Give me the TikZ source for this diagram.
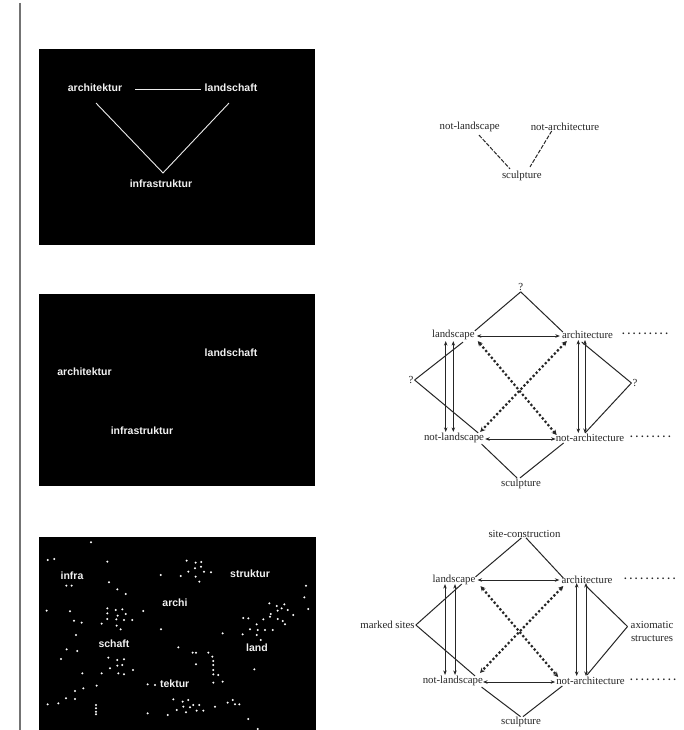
\documentclass[tikz,border=0pt]{standalone}
\usepackage{fontspec}
\setmainfont{Liberation Serif}
\newfontfamily\grotesk{Liberation Sans}
\usetikzlibrary{arrows.meta,calc}
\begin{document}
\begin{tikzpicture}[x=1pt,y=-1pt,
  panel/.style={fill=black},
  wlabel/.style={text=white!90!gray,font=\grotesk\bfseries\fontsize{10.5}{12}\selectfont,inner sep=1pt},
  wline/.style={draw=white!85!gray,line width=0.9pt},
  wdot/.style={fill=white},
  slabel/.style={text=black!85,font=\fontsize{10.8}{13}\selectfont,inner sep=1pt},
  conn/.style={draw=black!85,line width=1pt},
  dashconn/.style={conn,dash pattern=on 4pt off 1.5pt},
  dblarrow/.style={conn,{Stealth[length=4.5pt,width=3.5pt]}-{Stealth[length=4.5pt,width=3.5pt]}},
  dotarrow/.style={draw=black!85,line width=2.2pt,dash pattern=on 2.2pt off 2.2pt,{Stealth[length=5pt,width=5pt]}-{Stealth[length=5pt,width=5pt]}},
  dotrow/.style={slabel,anchor=west,inner sep=0pt,font=\bfseries\fontsize{10.8}{13}\selectfont}
]
\useasboundingbox (0,0) rectangle (684,730);
\fill[white] (0,0) rectangle (684,730);
% left rule
\draw[draw=black!55,line width=1.5pt] (20,3) -- (20,730);

% ---------- panel 1 ----------
\fill[panel] (39,49) rectangle (315,245);
\node[wlabel] (ark1) at (95,88) {architektur};
\node[wlabel] (land1) at (231,88) {landschaft};
\node[wlabel] (inf1) at (161,184) {infrastruktur};
\draw[wline] ($(ark1.east)+(12,1)$) -- ($(land1.west)+(-3,1)$);
\coordinate (vtip) at ($(inf1.north)+(2,-6)$);
\draw[wline] ($(ark1.south)+(1,10)$) -- (vtip) -- ($(land1.south)+(-2,10)$);

% right diagram 1
\node[slabel] (nla) at (469.7,127) {not-landscape};
\node[slabel] (naa) at (565,127) {not-architecture};
\node[slabel] (sa) at (521.8,176) {sculpture};
\draw[dashconn] ($(nla.south)+(9.3,2)$) -- ($(sa.north)+(-11.8,-1)$);
\draw[dashconn] ($(naa.south)+(-13.3,-1)$) -- ($(sa.north)+(8.2,-3)$);

% ---------- panel 2 ----------
\fill[panel] (39,294) rectangle (315,486);
\node[wlabel] (land2) at (231,353) {landschaft};
\node[wlabel] (ark2) at (84.5,372) {architektur};
\node[wlabel] (inf2) at (142,431) {infrastruktur};

% right diagram 2
\node[slabel] (q1) at (520.7,287) {?};
\node[slabel] (l2) at (453.3,335) {landscape};
\node[slabel] (a2) at (587.5,335) {architecture};
\node[slabel] (ql) at (411,380) {?};
\node[slabel] (qr) at (635,383) {?};
\node[slabel] (nl2) at (454,438) {not-landscape};
\node[slabel] (na2) at (590,438) {not-architecture};
\node[slabel] (s2) at (521,484) {sculpture};
\node[dotrow] (d2a) at (622,334) {.\ .\ .\ .\ .\ .\ .\ .\ .};
\node[dotrow] (d2b) at (630,437) {.\ .\ .\ .\ .\ .\ .\ .};

\draw[conn] (q1.south) -- ($(l2.north east)+(-1,2)$);
\draw[conn] (q1.south) -- ($(a2.north west)+(2,2)$);
\draw[dblarrow] ($(l2.east)+(1,1)$) -- ($(a2.west)+(-1,1)$);
\draw[dblarrow] ($(l2.south)+(-7.6,0)$) -- ($(nl2.north)+(-8.3,0)$);
\draw[dblarrow] ($(l2.south)+(0,0)$) -- ($(nl2.north)+(-0.7,0)$);
\draw[conn] (ql.east) -- ($(l2.south)+(9.7,1)$);
\draw[conn] (ql.east) -- ($(nl2.north east)+(-7,1)$);
\draw[dotarrow] ($(l2.south east)+(2,0)$) -- ($(na2.north west)+(2,2)$);
\draw[dotarrow] ($(a2.south west)+(6,1)$) -- ($(nl2.north east)+(-5,0)$);
\draw[dblarrow] ($(nl2.east)+(0,1)$) -- ($(na2.west)+(1,1)$);
\draw[dblarrow] ($(a2.south)+(-9.2,0)$) -- ($(na2.north)+(-11.7,0)$);
\draw[dblarrow] ($(a2.south)+(-2.5,0)$) -- ($(na2.north)+(-5,0)$);
\draw[conn] (qr.west) -- ($(a2.south)+(-5.8,2)$);
\draw[conn] (qr.west) -- ($(na2.north)+(-5,0)$);
\draw[conn] ($(nl2.south east)+(-3.6,0)$) -- ($(s2.north)+(-4,0)$);
\draw[conn] ($(na2.south west)+(9,0)$) -- ($(s2.north)+(-1,0)$);

% ---------- panel 3 ----------
\fill[panel] (39,537) rectangle (316,730);
\foreach \zx/\zy in {273/67, 143/120, 163/117, 322/125, 199/197, 215/197, 327/187, 352/208, 377/222, 140/272, 210/274, 322/265, 322/280, 347/270, 367/268, 377/282, 353/287, 430/273, 322/297, 349/298, 372/300, 397/300, 222/302, 245/308, 305/311, 350/317, 362/328, 228/345, 483/328, 200/388, 232/393, 183/417, 325/413, 352/420, 372/418, 330/445, 352/437, 367/435, 399/450, 355/460, 372/463, 247/460, 305/460, 290/497, 250/505, 225/513, 198/535, 225/537, 175/550, 143/553, 288/555, 288/565, 288/575, 288/583,
  560/122, 587/128, 604/126, 482/165, 542/168, 565/155, 585/145, 603/140, 612/155, 633/157, 587/170, 598/185,
  918/197, 913/232, 925/267, 808/250, 830/258, 853/253, 845/265, 863/270, 880/285, 833/272, 812/282, 790/298, 810/290, 833/297, 848/303, 855/313, 730/294, 745/295, 770/313, 773/330, 750/328, 795/330, 818/330, 728/343, 770/345, 782/360, 668/340,
  535/382, 578/398, 588/398, 625/398, 637/410, 640/423, 640/435, 588/433, 640/450, 655/465, 640/463, 640/488, 668/485, 763/448,
  443/493, 465/495, 520/538, 548/545, 565/540, 580/555, 598/555, 550/560, 570/562, 590/572, 610/572, 645/560, 683/548, 698/540, 705/553, 718/553, 530/570, 558/577, 503/585, 443/580, 745/597, 773/627}
  \fill[wdot] ({\zx/3},{520+\zy/3}) circle (1.1);
\node[wlabel] (infra3) at (72,576) {infra};
\node[wlabel] (strk3) at (250,574) {struktur};
\node[wlabel] (archi3) at (175,603) {archi};
\node[wlabel] (schaft3) at (114,644) {schaft};
\node[wlabel] (land3) at (257,648) {land};
\node[wlabel] (tekt3) at (174.7,684) {tektur};

% right diagram 3
\node[slabel] (sc) at (524.5,534) {site-construction};
\node[slabel] (l3) at (454,580) {landscape};
\node[slabel] (a3) at (587,580) {architecture};
\node[slabel] (ms) at (387.5,625) {marked sites};
\node[slabel,align=center,font=\fontsize{10.8}{13}\selectfont] (ax) at (652,631.5) {axiomatic\\structures};
\node[slabel] (nl3) at (452.8,681) {not-landscape};
\node[slabel] (na3) at (590.5,681) {not-architecture};
\node[slabel] (s3) at (521,721.7) {sculpture};
\node[dotrow] (d3a) at (624,579) {.\ .\ .\ .\ .\ .\ .\ .\ .\ .};
\node[dotrow] (d3b) at (630,680) {.\ .\ .\ .\ .\ .\ .\ .\ .};

\draw[conn] ($(sc.south)+(-3,-1)$) -- ($(l3.north east)+(-1,3)$);
\draw[conn] ($(sc.south)+(1.5,-1)$) -- ($(a3.north west)+(3,3)$);
\draw[dblarrow] ($(l3.east)+(1,0)$) -- ($(a3.west)+(-1,0)$);
\draw[dblarrow] ($(l3.south)+(-9,-2)$) -- ($(nl3.north)+(-7.8,0)$);
\draw[dblarrow] ($(l3.south)+(1,-2)$) -- ($(nl3.north)+(2.2,0)$);
\draw[conn] (ms.east) -- ($(l3.south)+(7.7,-2)$);
\draw[conn] (ms.east) -- ($(nl3.north east)+(-9,1)$);
\draw[dotarrow] ($(l3.south east)+(4,0)$) -- ($(na3.north west)+(3,1)$);
\draw[dotarrow] ($(a3.south west)+(3,1)$) -- ($(nl3.north east)+(-4,-2)$);
\draw[dblarrow] ($(nl3.east)+(-1,1)$) -- ($(na3.west)+(0,1)$);
\draw[dblarrow] ($(a3.south)+(-10.3,-2)$) -- ($(na3.north)+(-13.8,0)$);
\draw[dblarrow] ($(a3.south)+(-1,-2)$) -- ($(na3.north)+(-4.5,0)$);
\draw[conn] ($(ax.west)+(-2,-5)$) -- ($(a3.south)+(-2,0)$);
\draw[conn] ($(ax.west)+(-2,-5)$) -- ($(na3.north)+(-3.5,-1)$);
\draw[conn] ($(nl3.south east)+(-2.4,0)$) -- ($(s3.north)+(-0.5,1)$);
\draw[conn] ($(na3.south west)+(7.2,0)$) -- ($(s3.north)+(2,1)$);
\end{tikzpicture}
\end{document}
